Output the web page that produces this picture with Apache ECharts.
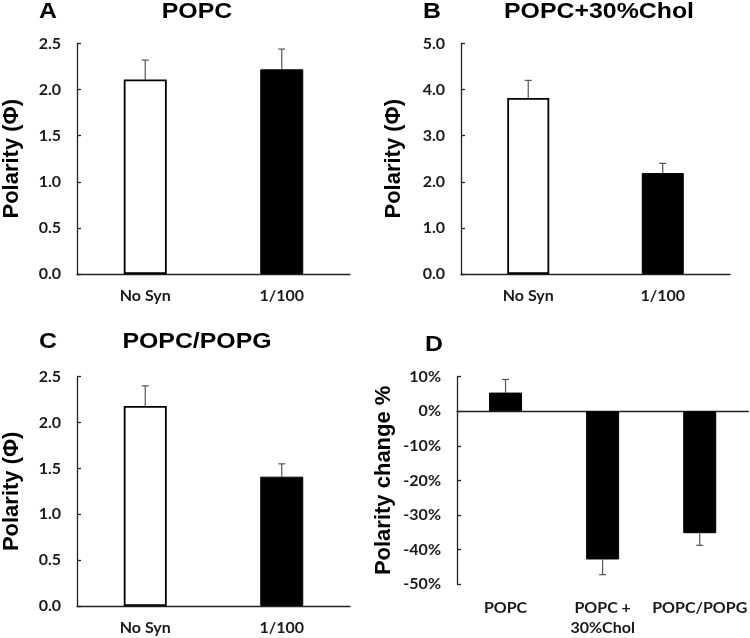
<!DOCTYPE html>
<html>
<head>
<meta charset="utf-8">
<script src="https://cdn.jsdelivr.net/npm/echarts@6/dist/echarts.min.js"></script>
<style>
html,body{margin:0;padding:0;background:#fff;}
#chart{width:750px;height:638px;}
</style>
</head>
<body>
<div id="chart"></div>
<script>
// ---- Data ----
const groupCats = ['No Syn', '1/100'];
const popcVals = [2.11, 2.22];
const popcErr = [0.21, 0.22];
const cholVals = [3.82, 2.19];
const cholErr = [0.38, 0.21];
const pgVals = [2.18, 1.41];
const pgErr = [0.22, 0.14];
const changeCats = ['POPC', 'POPC +\n30%Chol', 'POPC/POPG'];
const changeVals = [5.4, -42.9, -35.3];
const changeErr = [3.8, 4.4, 3.5];
const panelTitles = ['POPC', 'POPC+30%Chol', 'POPC/POPG', ''];
const panelLetters = ['A', 'B', 'C', 'D'];

// ---- Styles ----
const tickFont = {fontFamily: 'Lato', fontWeight: 'bold', fontSize: 16, color: '#1a1a1a'};
const nameFont = {fontFamily: 'Liberation Sans', fontWeight: 'bold', fontSize: 22, color: '#000'};
const axisLineStyle = {color: '#222', width: 1.3};

function barData(vals) {
  return vals.map((v, i) => ({
    value: v,
    itemStyle: i === 0
      ? {color: '#fff', borderColor: '#000', borderWidth: 1.8}
      : {color: '#000', borderColor: '#000', borderWidth: 1}
  }));
}

function errSeries(vals, errs, xi, yi) {
  return {
    type: 'custom',
    xAxisIndex: xi, yAxisIndex: yi,
    z: 1,
    data: vals.map((v, i) => [i, v, errs[i]]),
    renderItem: function (params, api) {
      const i = api.value(0), v = api.value(1), e = api.value(2);
      const end = v >= 0 ? v + e : v - e;
      const p0 = api.coord([i, v]);
      const p1 = api.coord([i, end]);
      const cap = 3.5;
      const st = {stroke: '#555', lineWidth: 1.2};
      return {
        type: 'group',
        children: [
          {type: 'line', shape: {x1: p0[0], y1: p0[1], x2: p1[0], y2: p1[1]}, style: st},
          {type: 'line', shape: {x1: p1[0] - cap, y1: p1[1], x2: p1[0] + cap, y2: p1[1]}, style: st}
        ]
      };
    }
  };
}

function yAxisPolar(grid, max, interval, gap) {
  return {
    type: 'value', gridIndex: grid, min: 0, max: max, interval: interval,
    name: 'Polarity (\u03A6)', nameLocation: 'middle', nameGap: gap, nameTextStyle: nameFont,
    axisLine: {show: true, lineStyle: axisLineStyle},
    axisTick: {show: true, inside: true, length: 4, lineStyle: axisLineStyle},
    axisLabel: Object.assign({margin: 16, formatter: v => v.toFixed(1)}, tickFont),
    splitLine: {show: false}
  };
}

function xAxisCat(grid, cats) {
  return {
    type: 'category', gridIndex: grid, data: cats,
    axisLine: {show: true, lineStyle: axisLineStyle},
    axisTick: {show: false},
    axisLabel: Object.assign({margin: 14, interval: 0}, tickFont)
  };
}

const titleGraphics = [
  {x: 48, y: 12, t: panelLetters[0]}, {x: 197, y: 12, t: panelTitles[0]},
  {x: 432, y: 12, t: panelLetters[1]}, {x: 599, y: 12, t: panelTitles[1]},
  {x: 48, y: 342, t: panelLetters[2]}, {x: 197, y: 342, t: panelTitles[2]},
  {x: 434, y: 345, t: panelLetters[3]}
].map(o => ({
  type: 'text', x: o.x, y: o.y, scaleX: 1.13,
  style: {text: o.t, align: 'center', verticalAlign: 'middle',
          font: 'bold 22px "Liberation Sans"', fill: '#000'}
}));

const option = {
  backgroundColor: '#fff',
  animation: false,
  graphic: titleGraphics,
  grid: [
    {left: 77, top: 43.5, width: 273, height: 230.5},
    {left: 461, top: 43.5, width: 269, height: 230.5},
    {left: 77, top: 376.7, width: 273, height: 229.3},
    {left: 457, top: 376.7, width: 293, height: 209}
  ],
  xAxis: [
    xAxisCat(0, groupCats),
    xAxisCat(1, groupCats),
    xAxisCat(2, groupCats),
    {
      type: 'category', gridIndex: 3, data: changeCats, position: 'bottom',
      axisLine: {show: true, onZero: true, lineStyle: axisLineStyle},
      axisTick: {show: false}, axisLabel: {show: false}
    },
    {
      type: 'category', gridIndex: 3, data: changeCats, position: 'bottom',
      axisLine: {show: false, onZero: false},
      axisTick: {show: false},
      axisLabel: Object.assign({margin: 14, interval: 0, lineHeight: 20}, tickFont)
    }
  ],
  yAxis: [
    yAxisPolar(0, 2.5, 0.5, 54),
    yAxisPolar(1, 5, 1, 56),
    yAxisPolar(2, 2.5, 0.5, 54),
    {
      type: 'value', gridIndex: 3, min: -50, max: 10, interval: 10,
      name: 'Polarity change %', nameLocation: 'middle', nameGap: 62, nameTextStyle: nameFont,
      axisLine: {show: true, onZero: false, lineStyle: axisLineStyle},
      axisTick: {show: true, inside: true, length: 4, lineStyle: axisLineStyle},
      axisLabel: Object.assign({margin: 16, formatter: v => v + '%'}, tickFont),
      splitLine: {show: false}
    }
  ],
  series: [
    {type: 'bar', xAxisIndex: 0, yAxisIndex: 0, barWidth: 43, data: barData(popcVals), z: 2},
    errSeries(popcVals, popcErr, 0, 0),
    {type: 'bar', xAxisIndex: 1, yAxisIndex: 1, barWidth: 42, data: barData(cholVals), z: 2},
    errSeries(cholVals, cholErr, 1, 1),
    {type: 'bar', xAxisIndex: 2, yAxisIndex: 2, barWidth: 43, data: barData(pgVals), z: 2},
    errSeries(pgVals, pgErr, 2, 2),
    {type: 'bar', xAxisIndex: 3, yAxisIndex: 3, barWidth: 33, z: 2,
     data: changeVals.map(v => ({value: v, itemStyle: {color: '#000', borderColor: '#000', borderWidth: 1}}))},
    errSeries(changeVals, changeErr, 3, 3)
  ]
};

const chart = echarts.init(document.getElementById('chart'), null, {renderer: 'canvas'});
chart.setOption(option);
</script>
</body>
</html>
